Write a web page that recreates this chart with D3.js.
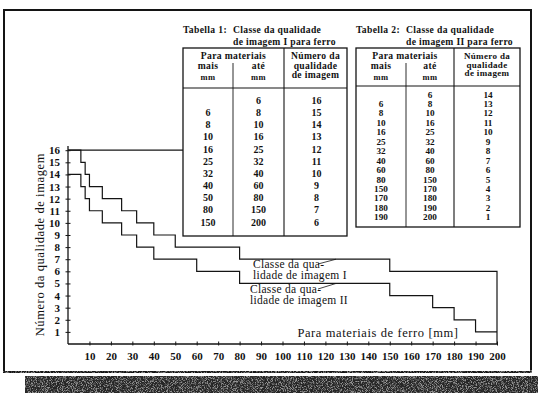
<!DOCTYPE html>
<html>
<head>
<meta charset="utf-8">
<script src="https://cdn.jsdelivr.net/npm/d3@7/dist/d3.min.js"></script>
<style>
  html, body { margin: 0; padding: 0; background: #fff; }
  svg { display: block; }
  text { font-family: "Liberation Serif", "DejaVu Serif", serif; fill: #111; }
</style>
</head>
<body>
<svg id="chart" width="538" height="393"></svg>
<script>
// Image quality class steps (wall thickness in mm -> image quality number)
const classIBreaks   = [0, 6, 8, 10, 16, 25, 32, 40, 50, 80, 150, 200];
const classIQuality  = [16, 15, 14, 13, 12, 11, 10, 9, 8, 7, 6];
const classIIBreaks  = [0, 6, 8, 10, 16, 25, 32, 40, 60, 80, 150, 170, 180, 190, 200];
const classIIQuality = [14, 13, 12, 11, 10, 9, 8, 7, 6, 5, 4, 3, 2, 1];

// Axis ticks
const xTickValues = [10, 20, 30, 40, 50, 60, 70, 80, 90, 100, 110, 120, 130, 140, 150, 160, 170, 180, 190, 200];
const yTickValues = [1, 2, 3, 4, 5, 6, 7, 8, 9, 10, 11, 12, 13, 14, 15, 16];

// Table 1: class I for iron
const table1Title = ["Tabella 1:", "Classe da qualidade", "de imagem I para ferro"];
const table1From  = ["", "6", "8", "10", "16", "25", "32", "40", "50", "80", "150"];
const table1To    = ["6", "8", "10", "16", "25", "32", "40", "60", "80", "150", "200"];
const table1Class = ["16", "15", "14", "13", "12", "11", "10", "9", "8", "7", "6"];

// Table 2: class II for iron
const table2Title = ["Tabella 2:", "Classe da qualidade", "de imagem II para ferro"];
const table2From  = ["", "6", "8", "10", "16", "25", "32", "40", "60", "80", "150", "170", "180", "190"];
const table2To    = ["6", "8", "10", "16", "25", "32", "40", "60", "80", "150", "170", "180", "190", "200"];
const table2Class = ["14", "13", "12", "11", "10", "9", "8", "7", "6", "5", "4", "3", "2", "1"];

const headerTexts = {
  group: "Para materiais", from: "mais", to: "até", unit: "mm",
  number: ["Número da", "qualidade", "de imagem"]
};

const yAxisTitle = "Número da qualidade de imagem";
const xAxisTitle = "Para materiais de ferro [mm]";
const curveLabelI  = ["Classe da qua-", "lidade de imagem I"];
const curveLabelII = ["Classe da qua-", "lidade de imagem II"];

const svg = d3.select("#chart");
const ink = "#141414";

// ---- page frame (outer sheet border) ----
svg.append("rect").attr("x", 3).attr("y", 9).attr("width", 529).attr("height", 364).attr("fill", ink);
svg.append("rect").attr("x", 5).attr("y", 11).attr("width", 525).attr("height", 360).attr("fill", "#fff");

// ---- bottom shadow band (printed halftone) ----
const defs = svg.append("defs");
const grain = defs.append("filter").attr("id", "grain")
  .attr("filterUnits", "userSpaceOnUse")
  .attr("x", 0).attr("y", 370).attr("width", 538).attr("height", 23);
grain.append("feTurbulence").attr("type", "fractalNoise")
  .attr("baseFrequency", 1.2).attr("numOctaves", 1).attr("seed", 4).attr("result", "n");
grain.append("feColorMatrix").attr("in", "n").attr("type", "matrix")
  .attr("values", "0 0 0 0 1  0 0 0 0 1  0 0 0 0 1  5 0 0 0 -2.3");

svg.append("rect").attr("x", 25).attr("y", 376).attr("width", 513).attr("height", 17)
  .attr("fill", "#262626");
svg.append("rect").attr("x", 25).attr("y", 376).attr("width", 513).attr("height", 17)
  .attr("fill", "#fff").attr("filter", "url(#grain)").attr("opacity", 0.5);

// ---- scales ----
const x = d3.scaleLinear().domain([0, 200]).range([68, 497]);
const y = d3.scaleLinear().domain([0, 16]).range([344, 150.2]);

const g = svg.append("g");

// axes lines
g.append("line").attr("x1", x(0)).attr("x2", x(200) + 1).attr("y1", y(0)).attr("y2", y(0))
  .attr("stroke", ink).attr("stroke-width", 1.3);
g.append("line").attr("x1", x(0)).attr("x2", x(0)).attr("y1", y(0)).attr("y2", y(16.35))
  .attr("stroke", ink).attr("stroke-width", 1.3);

// x ticks
const xAxis = d3.axisBottom(x).tickValues(xTickValues).tickSize(0).tickPadding(8)
  .tickFormat(d3.format("d"));
const xg = g.append("g").attr("transform", `translate(0,${y(0)})`).call(xAxis);
xg.select(".domain").remove();
xg.selectAll(".tick text").attr("font-size", 11).attr("font-weight", "bold")
  .attr("font-family", "Liberation Serif, serif").attr("fill", ink);
xg.selectAll(".tick").append("line").attr("y1", -2.5).attr("y2", 1.5).attr("stroke", ink);

// y ticks
const yAxis = d3.axisLeft(y).tickValues(yTickValues).tickSize(0).tickPadding(8)
  .tickFormat(d3.format("d"));
const yg = g.append("g").attr("transform", `translate(${x(0)},0)`).call(yAxis);
yg.select(".domain").remove();
yg.selectAll(".tick text").attr("font-size", 11).attr("font-weight", "bold")
  .attr("font-family", "Liberation Serif, serif").attr("fill", ink);
yg.selectAll(".tick").append("line").attr("x1", -2.5).attr("x2", 2.5).attr("stroke", ink);

// axis titles
g.append("text").attr("transform", `translate(40,${(y(0) + y(16.4)) / 2}) rotate(-90)`)
  .attr("text-anchor", "middle").attr("dominant-baseline", "central")
  .attr("font-size", 12.5).attr("letter-spacing", 0.6).text(yAxisTitle);
g.append("text").attr("x", 378).attr("y", 337).attr("text-anchor", "middle")
  .attr("font-size", 12.5).attr("letter-spacing", 0.6).text(xAxisTitle);

// ---- step curves ----
const stepPoints = (breaks, quality) =>
  breaks.map((b, i) => [b, quality[Math.min(i, quality.length - 1)]]);

const stepLine = d3.line().x(d => x(d[0])).y(d => y(d[1])).curve(d3.curveStepAfter);

const ptsI = stepPoints(classIBreaks, classIQuality);
ptsI.push([classIBreaks[classIBreaks.length - 1], 0]); // closing drop at 200 mm
g.append("path").attr("d", stepLine(ptsI)).attr("fill", "none")
  .attr("stroke", ink).attr("stroke-width", 1.2);

const ptsII = stepPoints(classIIBreaks, classIIQuality);
g.append("path").attr("d", stepLine(ptsII)).attr("fill", "none")
  .attr("stroke", ink).attr("stroke-width", 1.2);

// top rule at quality 16 running to the first table
g.append("line").attr("x1", x(0)).attr("x2", 183).attr("y1", y(16)).attr("y2", y(16))
  .attr("stroke", ink).attr("stroke-width", 1.2);

// curve labels with short leader strokes
function curveLabel(lines, lx, ly, lead) {
  const t = g.append("text").attr("x", lx).attr("y", ly).attr("font-size", 11.5).attr("letter-spacing", 0.3);
  lines.forEach((s, i) => t.append("tspan").attr("x", lx).attr("dy", i === 0 ? 0 : 10.5).text(s));
  g.append("line").attr("x1", lead[0]).attr("y1", lead[1]).attr("x2", lead[2]).attr("y2", lead[3])
    .attr("stroke", ink).attr("stroke-width", 0.8);
}
curveLabel(curveLabelI, 253, 268, [318, 264, 336, y(7)]);
curveLabel(curveLabelII, 250, 293, [318, 289, 336, y(5)]);

// ---- tables ----
function drawTable(opt) {
  const tg = svg.append("g");
  const fs = 9.6, ls = 0.35;
  // title
  tg.append("text").attr("x", opt.left).attr("y", 33).attr("font-size", fs).attr("font-weight", "bold")
    .attr("letter-spacing", ls).text(opt.title[0]);
  tg.append("text").attr("x", opt.c1).attr("y", 33).attr("font-size", fs).attr("font-weight", "bold")
    .attr("letter-spacing", ls).text(opt.title[1]);
  tg.append("text").attr("x", opt.c1).attr("y", 45).attr("font-size", fs).attr("font-weight", "bold")
    .attr("letter-spacing", ls).text(opt.title[2]);
  // frame
  tg.append("rect").attr("x", opt.left).attr("y", 48).attr("width", opt.right - opt.left)
    .attr("height", opt.bottom - 48).attr("fill", "#fff").attr("stroke", ink).attr("stroke-width", 1.3);
  tg.append("line").attr("x1", opt.left).attr("x2", opt.right).attr("y1", opt.head).attr("y2", opt.head)
    .attr("stroke", ink).attr("stroke-width", 1.1);
  tg.append("line").attr("x1", opt.c1).attr("x2", opt.c1).attr("y1", 63).attr("y2", opt.bottom)
    .attr("stroke", ink).attr("stroke-width", 0.9);
  tg.append("line").attr("x1", opt.c2).attr("x2", opt.c2).attr("y1", 48).attr("y2", opt.bottom)
    .attr("stroke", ink).attr("stroke-width", 1.1);
  // header
  const m1 = (opt.left + opt.c1) / 2, m2 = (opt.c1 + opt.c2) / 2, m3 = (opt.c2 + opt.right) / 2;
  const ht = (tx, ty, s, size) => tg.append("text").attr("x", tx).attr("y", ty).attr("text-anchor", "middle")
    .attr("font-size", size).attr("font-weight", "bold").attr("letter-spacing", ls).text(s);
  ht((opt.left + opt.c2) / 2, 59, headerTexts.group, fs);
  ht(m1, 69, headerTexts.from, fs); ht(m2, 69, headerTexts.to, fs);
  ht(m1, 80, headerTexts.unit, 8.5); ht(m2, 80, headerTexts.unit, 8.5);
  headerTexts.number.forEach((s, i) => ht(m3, 59 + i * opt.numStep, s, opt.numFont));
  // rows
  const rowY = i => opt.row0 + i * opt.rowStep;
  const cell = (tx, vals) => tg.append("g").selectAll("text").data(vals).join("text")
    .attr("x", tx).attr("y", (d, i) => rowY(i)).attr("text-anchor", "middle")
    .attr("dominant-baseline", "central").attr("font-size", opt.rowFont).attr("font-weight", "bold").text(d => d);
  cell(m1, opt.from); cell(m2, opt.to); cell(m3 + 1, opt.cls);
}

drawTable({ title: table1Title, left: 183, c1: 233, c2: 284, right: 347, head: 88, bottom: 236,
  row0: 100.5, rowStep: 12.15, rowFont: 10, numStep: 9.6, numFont: 9.6,
  from: table1From, to: table1To, cls: table1Class });
drawTable({ title: table2Title, left: 356, c1: 406, c2: 454, right: 520, head: 86, bottom: 227,
  row0: 94.5, rowStep: 9.45, rowFont: 9.2, numStep: 8.6, numFont: 9,
  from: table2From, to: table2To, cls: table2Class });
</script>
</body>
</html>
